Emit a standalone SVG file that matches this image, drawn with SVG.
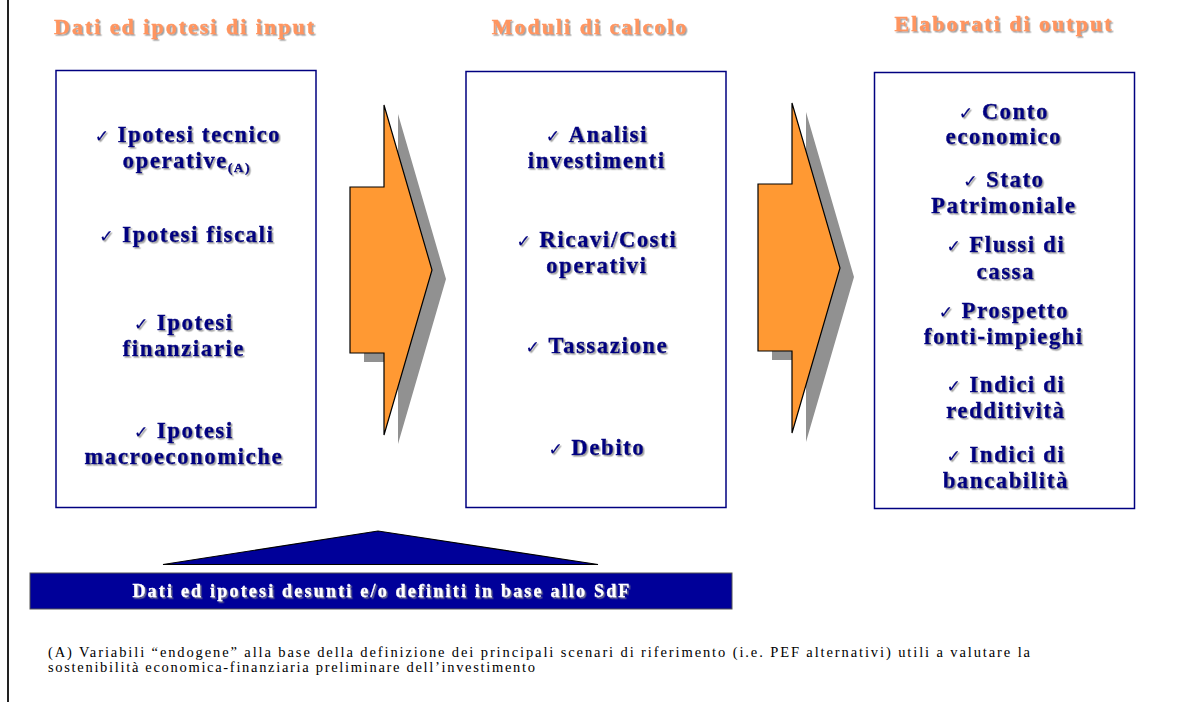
<svg xmlns="http://www.w3.org/2000/svg" width="1182" height="702" viewBox="0 0 1182 702">
<defs>
<filter id="sh" x="-5%" y="-20%" width="110%" height="150%">
<feDropShadow dx="1.5" dy="1.5" stdDeviation="0.6" flood-color="#8a8a8a" flood-opacity="0.8"/>
</filter>
<style>
.hd{font-family:"Liberation Serif",serif;font-weight:bold;font-size:22px;fill:#FF955F;stroke:#FF955F;stroke-width:0.4px;letter-spacing:2px;text-anchor:middle;filter:url(#sh)}
.it{font-family:"Liberation Serif",serif;font-weight:bold;font-size:22.5px;fill:#000080;stroke:#000080;stroke-width:0.5px;letter-spacing:1.7px;text-anchor:middle;filter:url(#sh)}
.ck{font-family:"DejaVu Sans",sans-serif;font-weight:normal;font-size:17px;stroke-width:0.2px}
.sub{font-size:13px}
.box{fill:#fff;stroke:#000080;stroke-width:1.5}
.arr{fill:#FF9933;stroke:#000;stroke-width:1.2;stroke-linejoin:miter}
.shd{fill:#919191}
.ban{font-family:"Liberation Serif",serif;font-weight:bold;font-size:18px;fill:#fff;stroke:#fff;stroke-width:0.3px;letter-spacing:2.2px;text-anchor:middle;filter:url(#sh)}
.fn{font-family:"Liberation Serif",serif;font-size:14.5px;fill:#000}
</style>
</defs>
<rect width="1182" height="702" fill="#fff"/>
<line x1="8" y1="0" x2="8" y2="702" stroke="#222" stroke-width="2"/>

<g id="headings">
<text class="hd" x="185" y="34">Dati ed ipotesi di input</text>
<text class="hd" x="590" y="34">Moduli di calcolo</text>
<text class="hd" x="1004" y="31">Elaborati di output</text>
</g>

<g id="node-input">
<rect class="box" x="56" y="70.5" width="260" height="437"/>
<text class="it" x="188" y="142"><tspan class="ck">✓ </tspan>Ipotesi tecnico</text>
<text class="it" x="187" y="168">operative<tspan class="sub" dy="4">(A)</tspan></text>
<text class="it" x="187" y="242"><tspan class="ck">✓ </tspan>Ipotesi fiscali</text>
<text class="it" x="184" y="330"><tspan class="ck">✓ </tspan>Ipotesi</text>
<text class="it" x="184" y="356">finanziarie</text>
<text class="it" x="184" y="438"><tspan class="ck">✓ </tspan>Ipotesi</text>
<text class="it" x="184" y="464">macroeconomiche</text>
</g>

<g id="node-calcolo">
<rect class="box" x="466" y="71.5" width="260" height="436"/>
<text class="it" x="597" y="142"><tspan class="ck">✓ </tspan>Analisi</text>
<text class="it" x="597" y="168">investimenti</text>
<text class="it" x="597" y="247"><tspan class="ck">✓ </tspan>Ricavi/Costi</text>
<text class="it" x="597" y="273">operativi</text>
<text class="it" x="597" y="353"><tspan class="ck">✓ </tspan>Tassazione</text>
<text class="it" x="597" y="455"><tspan class="ck">✓ </tspan>Debito</text>
</g>

<g id="node-output">
<rect class="box" x="874.5" y="72.5" width="260" height="436"/>
<text class="it" x="1004" y="119"><tspan class="ck">✓ </tspan>Conto</text>
<text class="it" x="1004" y="144">economico</text>
<text class="it" x="1004" y="187"><tspan class="ck">✓ </tspan>Stato</text>
<text class="it" x="1004" y="213">Patrimoniale</text>
<text class="it" x="1006" y="252"><tspan class="ck">✓ </tspan>Flussi di</text>
<text class="it" x="1006" y="279">cassa</text>
<text class="it" x="1004" y="318"><tspan class="ck">✓ </tspan>Prospetto</text>
<text class="it" x="1004" y="344">fonti-impieghi</text>
<text class="it" x="1006" y="392"><tspan class="ck">✓ </tspan>Indici di</text>
<text class="it" x="1006" y="418">redditività</text>
<text class="it" x="1006" y="462"><tspan class="ck">✓ </tspan>Indici di</text>
<text class="it" x="1006" y="488">bancabilità</text>
</g>

<g id="connectors">
<g id="arrow-1">
<polygon class="shd" points="398,114 446,279 398,444 398,362 364,362 364,196 398,196"/>
<polygon class="arr" points="384,105 432,270 384,435 384,353 350,353 350,187 384,187"/>
</g>
<g id="arrow-2">
<polygon class="shd" points="806,112 854,277 806,442 806,360 772,360 772,193 806,193"/>
<polygon class="arr" points="792,103 840,268 792,433 792,351 758,351 758,184 792,184"/>
</g>
<g id="base-triangle">
<polygon points="163,564.5 378,531 598,564.5" fill="#000099" stroke="#000" stroke-width="1.2"/>
</g>
</g>

<g id="node-banner">
<rect x="30" y="573" width="702" height="36" fill="#000099" stroke="#555" stroke-width="1"/>
<text class="ban" x="382" y="597">Dati ed ipotesi desunti e/o definiti in base allo SdF</text>
</g>

<g id="footnote">
<text class="fn" x="48" y="657" textLength="982" lengthAdjust="spacing">(A) Variabili “endogene” alla base della definizione dei principali scenari di riferimento (i.e. PEF alternativi) utili a valutare la</text>
<text class="fn" x="48" y="672" textLength="487" lengthAdjust="spacing">sostenibilità economica-finanziaria preliminare dell’investimento</text>
</g>
</svg>
